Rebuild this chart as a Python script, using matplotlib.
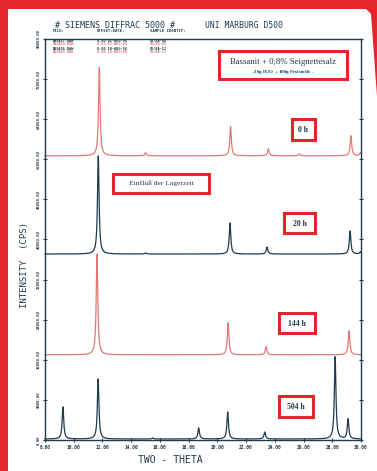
import numpy as np
import matplotlib
matplotlib.use("Agg")
import matplotlib.pyplot as plt
from matplotlib.patches import Polygon, Rectangle

# ---------------- data ----------------
two_theta_min, two_theta_max = 8.0, 30.0
x_ticks = [8, 10, 12, 14, 16, 18, 20, 22, 24, 26, 28, 30]
y_max = 80000
y_ticks = list(range(0, 80001, 8000))

series_names = ["0 h", "20 h", "144 h", "504 h"]
offsets = [56700, 37100, 17000, 200]

pos_0h = [11.78, 15.0, 20.92, 23.55, 25.7, 29.3, 29.95]
int_0h = [17600, 600, 5800, 1400, 400, 4000, 600]

pos_20h = [11.71, 15.0, 20.88, 23.46, 29.24, 29.95]
int_20h = [19600, 200, 6200, 1400, 4600, 400]

pos_144h = [11.62, 20.75, 23.39, 29.17]
int_144h = [20100, 6400, 1600, 4800]

pos_504h = [9.25, 11.7, 15.5, 18.7, 20.72, 23.3, 28.2, 29.1]
int_504h = [6400, 12000, 200, 2200, 5400, 1400, 16400, 4000]

peak_positions = [pos_0h, pos_20h, pos_144h, pos_504h]
peak_intensities = [int_0h, int_20h, int_144h, int_504h]

# ---------------- style ----------------
RED = "#e3262b"
DARK = "#1f3b4f"
PINK = "#e07a78"
series_colors = [PINK, DARK, PINK, DARK]
W, H = 377, 471

fig = plt.figure(figsize=(W / 100, H / 100), dpi=100)
fig.patch.set_facecolor(RED)

# background panel (pixel coordinates)
bg = fig.add_axes([0, 0, 1, 1], zorder=0)
bg.set_xlim(0, W); bg.set_ylim(H, 0); bg.axis("off")
bg.add_patch(Polygon([(8, 9), (366, 9), (371, 14), (378, 110), (382, H + 5), (8, H + 5)],
                     closed=True, facecolor="white", edgecolor="none"))

# main axes
L, R, T, B = 45, 361, 39, 440
ax = fig.add_axes([L / W, 1 - B / H, (R - L) / W, (B - T) / H], zorder=2)
ax.patch.set_alpha(0)
ax.set_xlim(two_theta_min, two_theta_max)
ax.set_ylim(0, y_max)

x = np.linspace(two_theta_min, two_theta_max, 4000)
w = 0.065
for off, pp, ii, col in zip(offsets, peak_positions, peak_intensities, series_colors):
    y = np.full_like(x, off, dtype=float)
    for p, h in zip(pp, ii):
        y += h / (1 + ((x - p) / w) ** 2)
    ax.plot(x, y, color=col, lw=0.9, clip_on=False)

for s in ax.spines.values():
    s.set_color(DARK); s.set_linewidth(1.0)
ax.set_xticks(x_ticks)
ax.set_xticklabels([f"{t:.2f}" for t in x_ticks], fontsize=3.3,
                   fontweight="bold", color=DARK, family="DejaVu Sans Mono")
ax.set_yticks(y_ticks)
ax.set_yticklabels([f"{t:.2f}" for t in y_ticks], fontsize=2.8, rotation=90,
                   va="center", fontweight="bold", color=DARK,
                   family="DejaVu Sans Mono")
ax.tick_params(axis="both", direction="inout", length=3, width=0.8,
               color=DARK, pad=2)
ax.tick_params(axis="y", right=True, pad=1.5)

# overlay (pixel coordinates) for texts and boxes
ov = fig.add_axes([0, 0, 1, 1], zorder=5)
ov.set_xlim(0, W); ov.set_ylim(H, 0); ov.axis("off")
ov.patch.set_alpha(0)

mono = "DejaVu Sans Mono"
ov.text(55, 25, "# SIEMENS DIFFRAC 5000 #", fontsize=6.0, family=mono,
        color=DARK, va="center", ha="left")
ov.text(205, 25, "UNI MARBURG D500", fontsize=5.8, family=mono,
        color=DARK, va="center", ha="left")
ov.text(53, 30.5, "FILE:", fontsize=2.8, family=mono, fontweight="bold", color=DARK, va="center")
ov.text(97, 30.5, "OFFSET:DATE:", fontsize=2.8, family=mono, fontweight="bold", color=DARK, va="center")
ov.text(150, 30.5, "SAMPLE IDENTIF:", fontsize=2.8, family=mono, fontweight="bold", color=DARK, va="center")
rows = [("BSSA17.RAW", "0.00 02-AUG-94", "02/BA-04", DARK, 40.5),
        ("BSSA20.RAW", "0.00 03-AUG-94", "02/BA-05", PINK, 44),
        ("BSSA36.RAW", "0.00 10-AUG-94", "02/BA-12", DARK, 48.5),
        ("BSSA55.RAW", "0.00 24-AUG-94", "02/BA-13", PINK, 52)]
for f, d, s, c, yy in rows:
    ov.text(53, yy, f, fontsize=2.6, family=mono, fontweight="bold", color=c, va="center")
    ov.text(97, yy, d, fontsize=2.6, family=mono, fontweight="bold", color=c, va="center")
    ov.text(150, yy, s, fontsize=2.6, family=mono, fontweight="bold", color=c, va="center")

ov.text(25, 265, "INTENSITY  (CPS)", fontsize=6.5, family=mono, color=DARK,
        rotation=90, va="center", ha="center")
ov.text(170, 460, "TWO - THETA", fontsize=7, family=mono, color=DARK,
        va="center", ha="center")


def box(x0, y0, x1, y1):
    ov.add_patch(Rectangle((x0, y0), x1 - x0, y1 - y0, facecolor="white",
                           edgecolor=RED, lw=2.2))


serif = "Liberation Serif"
box(219, 51, 347, 79)
ov.text(283, 61.5, "Bassanit + 0,8% Seignettesalz", fontsize=6.3, family=serif,
        color=DARK, va="center", ha="center")
ov.text(283, 71.5, "- 30g H$_2$O + 100g Feststoffe -", fontsize=3.6, family=serif,
        fontweight="bold", color=DARK, va="center", ha="center")

box(113, 174, 209, 193)
ov.text(161, 183.5, "Einfluß der Lagerzeit", fontsize=5.4, family=serif,
        color=DARK, va="center", ha="center")

label_boxes = [(292, 119, 315, 140), (284, 213, 315, 233),
               (279, 313, 315, 333), (279, 396, 313, 417)]
for name, (x0, y0, x1, y1) in zip(series_names, label_boxes):
    box(x0, y0, x1, y1)
    ov.text((x0 + x1) / 2, (y0 + y1) / 2 + 0.5, name, fontsize=5.6, family=serif,
            fontweight="bold", color=DARK, va="center", ha="center")

fig.savefig("out.png", dpi=100, facecolor=fig.get_facecolor())
